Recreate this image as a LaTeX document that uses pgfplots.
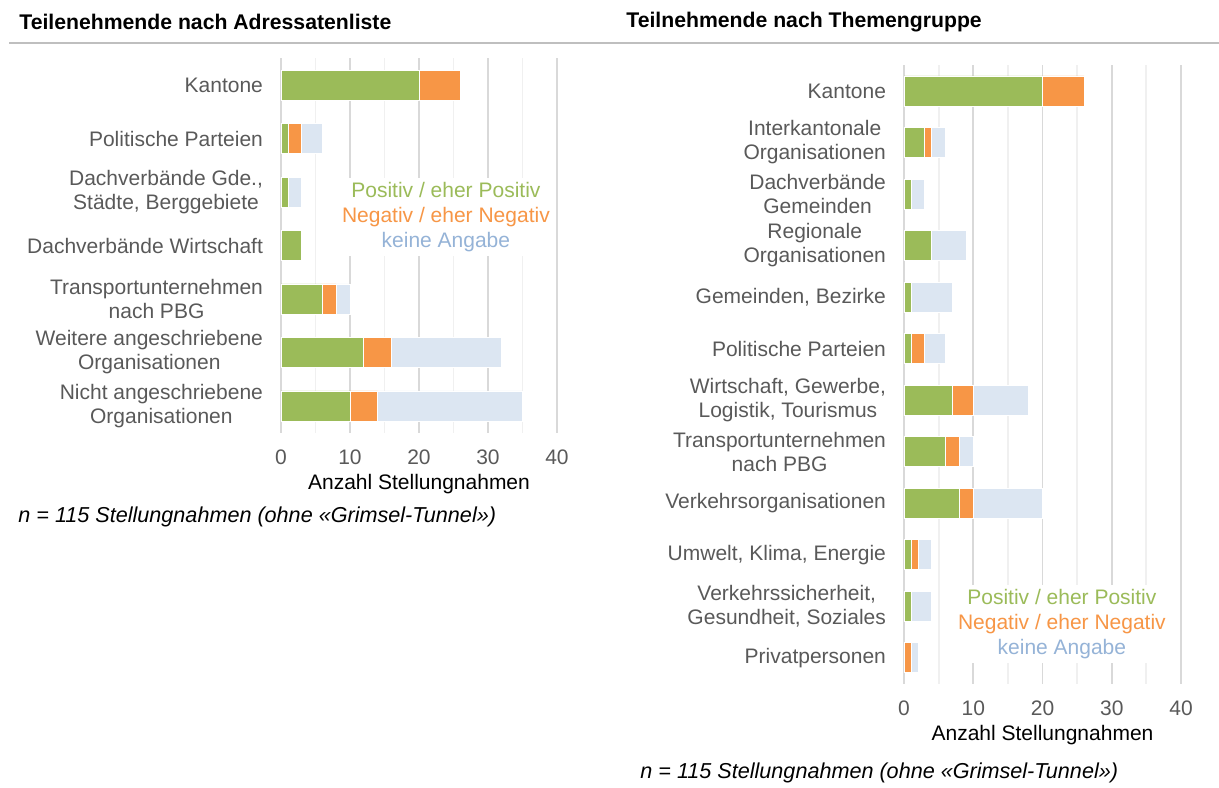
\documentclass[border=0pt]{standalone}
\usepackage{fontspec}
\setmainfont{Liberation Sans}
\usepackage{pgfplots}
\pgfplotsset{compat=1.18}
\usepackage{pgfplotstable}
\definecolor{cgreen}{HTML}{9BBB59}
\definecolor{corange}{HTML}{F79646}
\definecolor{cblue}{HTML}{DCE6F2}
\definecolor{ctext}{HTML}{95B3D7}
\definecolor{labgray}{HTML}{595959}
\definecolor{gridmaj}{HTML}{D9D9D9}
\definecolor{gridmin}{HTML}{F0F0F0}
\definecolor{linegray}{HTML}{BFBFBF}

\pgfplotstableread{
idx pos neg na
0 20 6 0
1 1 2 3
2 1 0 2
3 3 0 0
4 6 2 2
5 12 4 16
6 10 4 21
}\lefttab

\pgfplotstableread{
idx pos neg na
0 20 6 0
1 3 1 2
2 1 0 2
3 4 0 5
4 1 0 6
5 1 2 3
6 7 3 8
7 6 2 2
8 8 2 10
9 1 1 2
10 1 0 3
11 0 1 1
}\righttab

\pgfplotsset{mystyle/.style={
  scale only axis,
  xbar stacked,
  bar width=15pt,
  xmin=0, xmax=40,
  y dir=reverse,
  xtick={0,10,20,30,40},
  minor xtick={5,15,25,35},
  xmajorgrids, xminorgrids,
  major grid style={draw=gridmaj, line width=0.9pt},
  minor grid style={draw=gridmin, line width=0.9pt},
  axis line style={draw=none},
  tick style={draw=none},
  /pgf/number format/assume math mode=true,
  xticklabel style={font=\fontsize{10.5}{12}\selectfont, text=labgray, anchor=center, yshift=-12.3pt},
  yticklabel style={align=center, font=\fontsize{10.5}{12}\selectfont, text=labgray, xshift=-5.5pt},
  xlabel={Anzahl Stellungnahmen},
  xlabel style={font=\fontsize{10.5}{12}\selectfont, text=black, at={(axis description cs:0.5,0)}, anchor=center, yshift=-25.6pt},
  every axis plot/.append style={draw=white, line width=0.3pt},
  clip=false,
}}

\begin{document}
\begin{tikzpicture}
\path[use as bounding box] (0,0) rectangle (609.5pt,-393.5pt);

\node[anchor=west, inner sep=0, font=\bfseries\fontsize{10.6}{12}\selectfont] at (9.5pt,-10.8pt) {Teilenehmende nach Adressatenliste};
\node[anchor=west, inner sep=0, font=\bfseries\fontsize{10.6}{12}\selectfont] at (313pt,-10.8pt) {Teilnehmende nach Themengruppe};
\draw[linegray, line width=1pt] (4.5pt,-21.5pt) -- (609.5pt,-21.5pt);

\begin{axis}[mystyle,
  at={(140.5pt,-29.15pt)}, anchor=north west,
  width=138pt, height=187.2pt,
  ymin=-0.5, ymax=6.5,
  ytick={0,...,6},
  yticklabels={Kantone, {Politische Parteien}, {Dachverbände Gde.,\\Städte, Berggebiete}, {Dachverbände Wirtschaft}, {Transportunternehmen\\nach PBG}, {Weitere angeschriebene\\Organisationen}, {Nicht angeschriebene\\Organisationen}},
]
\addplot[fill=cgreen] table[x=pos, y=idx] {\lefttab};
\addplot[fill=corange] table[x=neg, y=idx] {\lefttab};
\addplot[fill=cblue] table[x=na, y=idx] {\lefttab};
\node[fill=white, align=center, inner sep=2pt, font=\fontsize{10.5}{12.5}\selectfont] at (axis cs:23.9,2.47) {\textcolor{cgreen}{Positiv / eher Positiv}\\\textcolor{corange}{Negativ / eher Negativ}\\\textcolor{ctext}{keine Angabe}};
\end{axis}

\begin{axis}[mystyle,
  at={(452pt,-32.6pt)}, anchor=north west,
  width=138.5pt, height=309.15pt,
  ymin=-0.5, ymax=11.5,
  ytick={0,...,11},
  yticklabels={Kantone, {Interkantonale\\Organisationen}, {Dachverbände\\Gemeinden}, {Regionale\\Organisationen}, {Gemeinden, Bezirke}, {Politische Parteien}, {Wirtschaft, Gewerbe,\\Logistik, Tourismus}, {Transportunternehmen\\nach PBG}, {Verkehrsorganisationen}, {Umwelt, Klima, Energie}, {Verkehrssicherheit,\\Gesundheit, Soziales}, {Privatpersonen}},
]
\addplot[fill=cgreen] table[x=pos, y=idx] {\righttab};
\addplot[fill=corange] table[x=neg, y=idx] {\righttab};
\addplot[fill=cblue] table[x=na, y=idx] {\righttab};
\node[fill=white, align=center, inner sep=2pt, font=\fontsize{10.5}{12.5}\selectfont] at (axis cs:22.8,10.35) {\textcolor{cgreen}{Positiv / eher Positiv}\\\textcolor{corange}{Negativ / eher Negativ}\\\textcolor{ctext}{keine Angabe}};
\end{axis}

\node[anchor=west, inner sep=0, font=\itshape\fontsize{10.8}{12}\selectfont] at (9pt,-258.5pt) {n = 115 Stellungnahmen (ohne «Grimsel-Tunnel»)};
\node[anchor=west, inner sep=0, font=\itshape\fontsize{10.8}{12}\selectfont] at (320pt,-386.5pt) {n = 115 Stellungnahmen (ohne «Grimsel-Tunnel»)};
\end{tikzpicture}
\end{document}
